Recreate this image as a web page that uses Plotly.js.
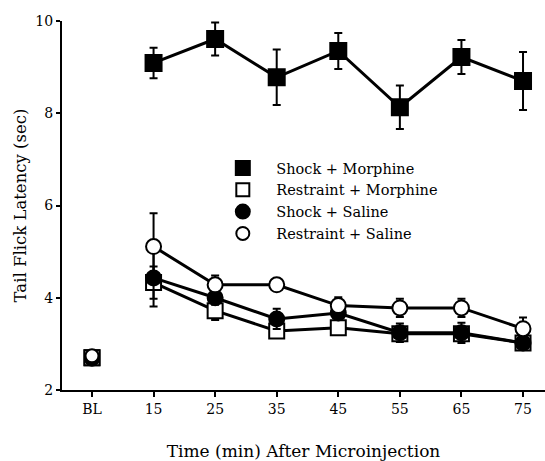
<!DOCTYPE html>
<html>
<head>
<meta charset="utf-8">
<script src="https://cdn.plot.ly/plotly-3.0.1.min.js"></script>
<style>html,body{margin:0;padding:0;background:#fff;}#chart{width:545px;height:461px;}</style>
</head>
<body>
<div id="chart"></div>
<script>
// Categories (BL = baseline, then minutes after microinjection)
const tickLabels = ["BL", "15", "25", "35", "45", "55", "65", "75"];
const xIdx = [1, 2, 3, 4, 5, 6, 7];
const blIdx = [0];

// Series values (sec), post-injection time points
const shockMorphine      = [9.09, 9.61, 8.78, 9.35, 8.13, 9.22, 8.70];
const shockMorphineErr   = [0.33, 0.36, 0.60, 0.39, 0.47, 0.37, 0.63];
const restraintMorphine    = [4.33, 3.72, 3.28, 3.35, 3.22, 3.22, 3.02];
const restraintMorphineErr = [0.35, 0.20, 0.15, 0.10, 0.10, 0.10, 0.08];
const shockSaline      = [4.43, 4.00, 3.54, 3.67, 3.24, 3.24, 3.02];
const shockSalineErr   = [0.62, 0.15, 0.22, 0.10, 0.20, 0.22, 0.10];
const restraintSaline    = [5.11, 4.28, 4.28, 3.83, 3.78, 3.78, 3.33];
const restraintSalineErr = [0.72, 0.20, 0.10, 0.18, 0.20, 0.20, 0.24];

// Baseline values
const blShockMorphine = [2.70];
const blRestraintMorphine = [2.70];
const blShockSaline = [2.68];
const blRestraintSaline = [2.74];

const names = ["Shock + Morphine", "Restraint + Morphine", "Shock + Saline", "Restraint + Saline"];

function series(y, err, symbol, fill, size) {
  return {
    x: xIdx, y: y, type: "scatter", mode: "lines+markers", showlegend: false,
    line: {color: "#000", width: 3},
    marker: {symbol: symbol, size: size, color: fill, line: {color: "#000", width: 2}},
    error_y: {type: "data", array: err, visible: true, color: "#000", thickness: 2, width: 4},
    cliponaxis: false
  };
}
function base(y, symbol, fill, size) {
  return {
    x: blIdx, y: y, type: "scatter", mode: "markers", showlegend: false,
    marker: {symbol: symbol, size: size, color: fill, line: {color: "#000", width: 2}}
  };
}
function legendItem(name, symbol, fill, size) {
  return {
    x: [null], y: [null], type: "scatter", mode: "markers", name: name, showlegend: true,
    marker: {symbol: symbol, size: size, color: fill, line: {color: "#000", width: 2}}
  };
}

const data = [
  base(blShockMorphine, "square", "#000", 15),
  base(blRestraintMorphine, "square", "#fff", 15),
  base(blShockSaline, "circle", "#000", 14),
  base(blRestraintSaline, "circle", "#fff", 13),
  series(restraintMorphine, restraintMorphineErr, "square", "#fff", 15),
  series(shockSaline, shockSalineErr, "circle", "#000", 15),
  series(restraintSaline, restraintSalineErr, "circle", "#fff", 15),
  series(shockMorphine, shockMorphineErr, "square", "#000", 16),
  legendItem(names[0], "square", "#000", 14),
  legendItem(names[1], "square", "#fff", 13),
  legendItem(names[2], "circle", "#000", 14),
  legendItem(names[3], "circle", "#fff", 13)
];

const fam = "DejaVu Serif, Liberation Serif, serif";

const layout = {
  width: 545, height: 461,
  margin: {l: 62, r: 0, t: 21, b: 71},
  paper_bgcolor: "#fff", plot_bgcolor: "#fff",
  font: {family: fam, size: 14, color: "#000"},
  showlegend: true,
  legend: {
    x: 0.305, y: 0.645, xanchor: "left", yanchor: "top",
    bgcolor: "rgba(0,0,0,0)", borderwidth: 0,
    font: {family: fam, size: 14.5, color: "#000"},
    tracegroupgap: 0, itemwidth: 57
  },
  xaxis: {
    range: [-0.487, 7.357],
    tickmode: "array", tickvals: [0, 1, 2, 3, 4, 5, 6, 7], ticktext: tickLabels,
    showgrid: false, zeroline: false,
    showline: true, linecolor: "#000", linewidth: 2,
    ticks: "outside", ticklen: 5, tickwidth: 2, tickcolor: "#000",
    tickfont: {family: fam, size: 14, color: "#000"},
    title: {text: "Time (min) After Microinjection", font: {family: fam, size: 17, color: "#000"}, standoff: 29}
  },
  yaxis: {
    range: [2, 10],
    tickmode: "array", tickvals: [2, 4, 6, 8, 10],
    showgrid: false, zeroline: false,
    showline: true, linecolor: "#000", linewidth: 2,
    ticks: "outside", ticklen: 4, tickwidth: 2, tickcolor: "#000",
    tickfont: {family: fam, size: 14, color: "#000"},
    title: {text: "Tail Flick Latency (sec)", font: {family: fam, size: 16.5, color: "#000"}, standoff: 5}
  }
};

Plotly.newPlot("chart", data, layout, {displayModeBar: false, staticPlot: true});
</script>
</body>
</html>
